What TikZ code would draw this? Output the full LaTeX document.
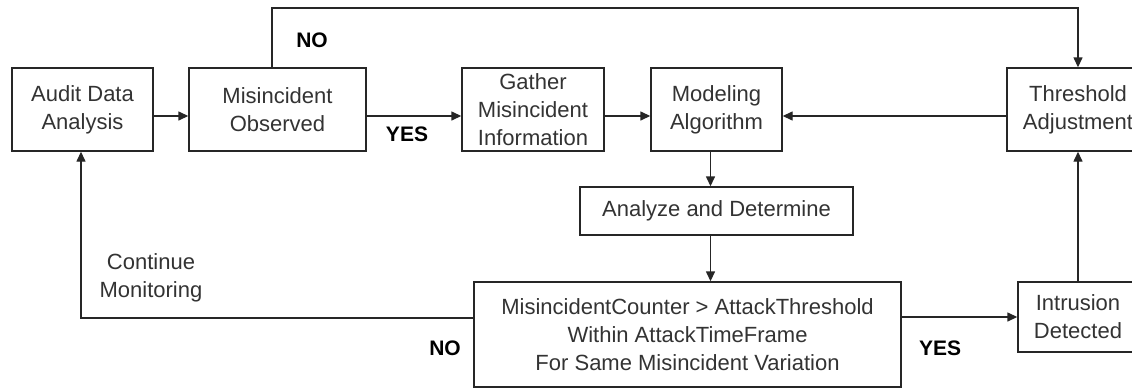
\documentclass[tikz,border=0pt]{standalone}
\usepackage{fontspec}
\setmainfont{Liberation Sans}
\usetikzlibrary{arrows.meta}
\begin{document}
\begin{tikzpicture}[x=1pt,y=-1pt,
  >={Triangle[length=10pt,width=9pt]},
  line/.style={draw=black!85, line width=1.4pt},
  box/.style={draw=black!85, line width=1.4pt, inner sep=0pt, align=center,
    font=\fontsize{22}{28}\selectfont, text=black!80},
  lbl/.style={inner sep=0pt, align=center, font=\fontsize{22}{28}\selectfont, text=black!80},
  yn/.style={inner sep=0pt, font=\fontsize{21}{24}\selectfont\bfseries, text=black}]
  % page area
  \fill[white] (0,0) rectangle (1132,389);
  \useasboundingbox (0,0) rectangle (1132,389);

  % process boxes
  \node[box, minimum width=141pt, minimum height=83pt] (audit) at (82.5,109.5) {Audit Data\\Analysis};
  \node[box, minimum width=177pt, minimum height=83pt] (mis) at (277.5,109.5) {Misincident\\Observed};
  \node[box, minimum width=142pt, minimum height=83pt] (gather) at (533,109.5) {Gather\\Misincident\\Information};
  \node[box, minimum width=131pt, minimum height=83pt] (model) at (716.5,109.5) {Modeling\\Algorithm};
  \node[box, minimum width=142pt, minimum height=83pt] (thresh) at (1078,109.5) {Threshold\\Adjustment};
  \node[box, minimum width=273pt, minimum height=48pt] (analyze) at (716.5,211) {Analyze and Determine};
  \node[box, minimum width=427pt, minimum height=105pt] (cond) at (687.5,334.5)
    {MisincidentCounter > AttackThreshold\\Within AttackTimeFrame\\For Same Misincident Variation};
  \node[box, minimum width=120pt, minimum height=70pt] (intr) at (1078,317) {Intrusion\\Detected};

  % bend points and columns of the routed connectors
  \coordinate (noUpL) at (272,8);
  \coordinate (noUpR) at (1078,8);
  \coordinate (contCorner) at (81,318);
  \coordinate (midCol) at (710.5,0);

  % connectors
  \draw[line,->] ([yshift=-6.5pt]audit.east) -- ([yshift=-6.5pt]mis.west);
  \draw[line,->] ([yshift=-6.5pt]mis.east) -- ([yshift=-6.5pt]gather.west);
  \draw[line,->] ([yshift=-6.5pt]gather.east) -- ([yshift=-6.5pt]model.west);
  \draw[line,->] ([yshift=-6.5pt]thresh.west) -- ([yshift=-6.5pt]model.east);
  \draw[line,->] (mis.north -| noUpL) -- (noUpL) -- (noUpR) -- (thresh.north);
  \draw[line,->] (model.south -| midCol) -- (analyze.north -| midCol);
  \draw[line,->] (analyze.south -| midCol) -- (cond.north -| midCol);
  \draw[line,->] (cond.west |- contCorner) -- (contCorner) -- (audit.south -| contCorner);
  \draw[line,->] (cond.east |- intr.west) -- (intr.west);
  \draw[line,->] (intr.north) -- (thresh.south);

  % branch labels
  \node[yn] (noTop) at (312,40) {NO};
  \node[yn] (yesTop) at (407,134) {YES};
  \node[yn] (noBot) at (445,348) {NO};
  \node[yn] (yesBot) at (940,348) {YES};
  \node[lbl] (cont) at (151,277.5) {Continue\\Monitoring};
\end{tikzpicture}
\end{document}
